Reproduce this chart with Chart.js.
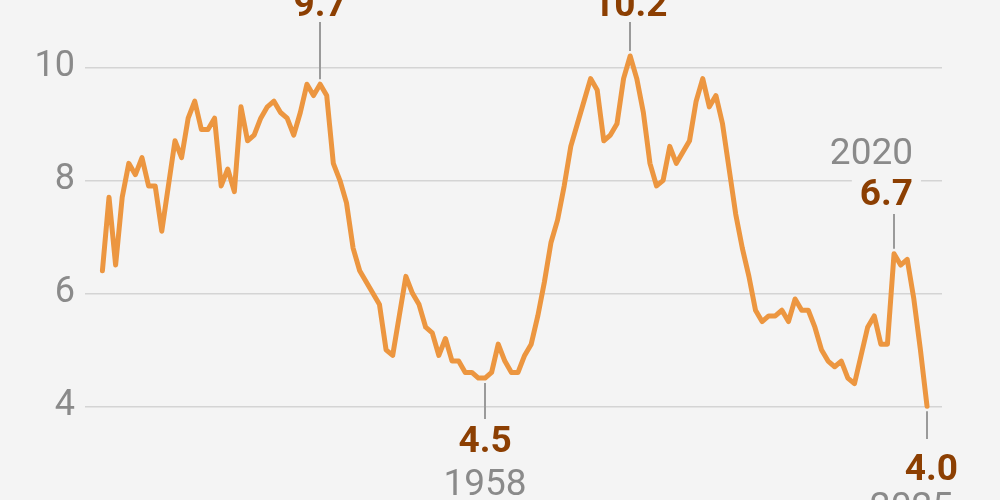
<!DOCTYPE html>
<html>
<head>
<meta charset="utf-8">
<script src="https://cdn.jsdelivr.net/npm/chart.js@4.4.1/dist/chart.umd.min.js"></script>
<style>
  html, body { margin: 0; padding: 0; background: #f4f4f4; overflow: hidden; }
  canvas { display: block; }
</style>
</head>
<body>
<canvas id="c" width="1000" height="500"></canvas>
<script>
const years = [
  1900,1901,1902,1903,1904,1905,1906,1907,1908,1909,
  1910,1911,1912,1913,1914,1915,1916,1917,1918,1919,
  1920,1921,1922,1923,1924,1925,1926,1927,1928,1929,
  1930,1931,1932,1933,1934,1935,1936,1937,1938,1939,
  1940,1941,1942,1943,1944,1945,1946,1947,1948,1949,
  1950,1951,1952,1953,1954,1955,1956,1957,1958,1959,
  1960,1961,1962,1963,1964,1965,1966,1967,1968,1969,
  1970,1971,1972,1973,1974,1975,1976,1977,1978,1979,
  1980,1981,1982,1983,1984,1985,1986,1987,1988,1989,
  1990,1991,1992,1993,1994,1995,1996,1997,1998,1999,
  2000,2001,2002,2003,2004,2005,2006,2007,2008,2009,
  2010,2011,2012,2013,2014,2015,2016,2017,2018,2019,
  2020,2021,2022,2023,2024,2025
];
const values = [
  6.4,7.7,6.5,7.7,8.3,8.1,8.4,7.9,7.9,7.1,
  7.9,8.7,8.4,9.1,9.4,8.9,8.9,9.1,7.9,8.2,
  7.8,9.3,8.7,8.8,9.1,9.3,9.4,9.2,9.1,8.8,
  9.2,9.7,9.5,9.7,9.5,8.3,8.0,7.6,6.8,6.4,
  6.2,6.0,5.8,5.0,4.9,5.6,6.3,6.0,5.8,5.4,
  5.3,4.9,5.2,4.8,4.8,4.6,4.6,4.5,4.5,4.6,
  5.1,4.8,4.6,4.6,4.9,5.1,5.6,6.2,6.9,7.3,
  7.9,8.6,9.0,9.4,9.8,9.6,8.7,8.8,9.0,9.8,
  10.2,9.8,9.2,8.3,7.9,8.0,8.6,8.3,8.5,8.7,
  9.4,9.8,9.3,9.5,9.0,8.2,7.4,6.8,6.3,5.7,
  5.5,5.6,5.6,5.7,5.5,5.9,5.7,5.7,5.4,5.0,
  4.8,4.7,4.8,4.5,4.4,4.9,5.4,5.6,5.1,5.1,
  6.7,6.5,6.6,5.9,5.0,4.0
];
const yTicks = [4, 6, 8, 10];
const annotYears = [1933, 1958, 1980, 2020, 2025];
const annotYearLabels = ['', '1958', '', '2020', '2025'];

const BG = '#f4f4f4';
const LINE = '#ec9640';
const BROWN = '#8c3f02';
const GRAY = '#8a8a8a';
const FONT = 'Roboto, "Liberation Sans", sans-serif';

// per-annotation styling (placement only)
const annotStyle = {
  1933: { side: 'top',    tickTop: 22,  align: 'center', dx: 0,  valueBase: 16 },
  1980: { side: 'top',    tickTop: 22,  align: 'center', dx: 0,  valueBase: 16 },
  1958: { side: 'bottom', tickBot: 419, align: 'center', dx: 0,  valueBase: 452, yearBase: 495 },
  2020: { side: 'top',    tickTop: 214, align: 'right',  dx: 19, valueBase: 205, yearBase: 164, box: true },
  2025: { side: 'bottom', tickBot: 439, align: 'right',  dx: 31, yearDx: 26, valueBase: 480, yearBase: 518 }
};

const annotPlugin = {
  id: 'annot',
  afterDatasetsDraw(chart) {
    const ctx = chart.ctx;
    const xs = chart.scales.x, ys = chart.scales.y;
    ctx.save();
    annotYears.forEach((yr, k) => {
      const i = years.indexOf(yr);
      const v = values[i];
      const px = xs.getPixelForValue(yr);
      const py = ys.getPixelForValue(v);
      const st = annotStyle[yr];
      ctx.strokeStyle = '#9a9a9a';
      ctx.lineWidth = 2;
      ctx.beginPath();
      if (st.side === 'top') {
        ctx.moveTo(Math.round(px), st.tickTop);
        ctx.lineTo(Math.round(px), py - 5);
      } else {
        ctx.moveTo(Math.round(px), py + 5);
        ctx.lineTo(Math.round(px), st.tickBot);
      }
      ctx.stroke();
      const vText = v.toFixed(1);
      ctx.font = 'bold 37px ' + FONT;
      ctx.textAlign = st.align;
      ctx.textBaseline = 'alphabetic';
      const tx = px + st.dx;
      if (st.box) {
        const w = ctx.measureText(vText).width;
        ctx.fillStyle = BG;
        ctx.fillRect(tx - w - 8, st.valueBase - 30, w + 16, 34);
      }
      ctx.fillStyle = BROWN;
      ctx.fillText(vText, tx, st.valueBase);
      const yl = annotYearLabels[k];
      if (yl) {
        ctx.font = '37px ' + FONT;
        ctx.fillStyle = GRAY;
        ctx.textAlign = st.align;
        const ydx = st.yearDx !== undefined ? st.yearDx : st.dx;
        ctx.fillText(yl, px + ydx, st.yearBase);
      }
    });
    ctx.restore();
  }
};

new Chart(document.getElementById('c'), {
  type: 'line',
  data: {
    datasets: [{
      data: years.map((y, i) => ({ x: y, y: values[i] })),
      borderColor: LINE,
      borderWidth: 5,
      pointRadius: 0,
      tension: 0,
      borderJoinStyle: 'round',
      borderCapStyle: 'round',
      clip: false
    }]
  },
  options: {
    responsive: false,
    animation: false,
    devicePixelRatio: 1,
    layout: { padding: { left: 0, right: 58, top: 0, bottom: 0 } },
    plugins: { legend: { display: false }, tooltip: { enabled: false } },
    scales: {
      x: {
        type: 'linear',
        min: 1897.36,
        max: 2027.27,
        display: false
      },
      y: {
        min: 2.342,
        max: 11.191,
        afterBuildTicks(scale) { scale.ticks = yTicks.map(v => ({ value: v })); },
        afterFit(scale) {
          scale.width = 85;
          scale.paddingTop = 0;
          scale.paddingBottom = 0;
        },
        border: { display: false },
        grid: { color: '#d4d4d4', lineWidth: 1.5, drawTicks: false },
        ticks: {
          padding: 10,
          color: GRAY,
          font: { family: FONT, size: 36 },
          callback: v => String(v)
        }
      }
    }
  },
  plugins: [annotPlugin]
});
</script>
</body>
</html>
